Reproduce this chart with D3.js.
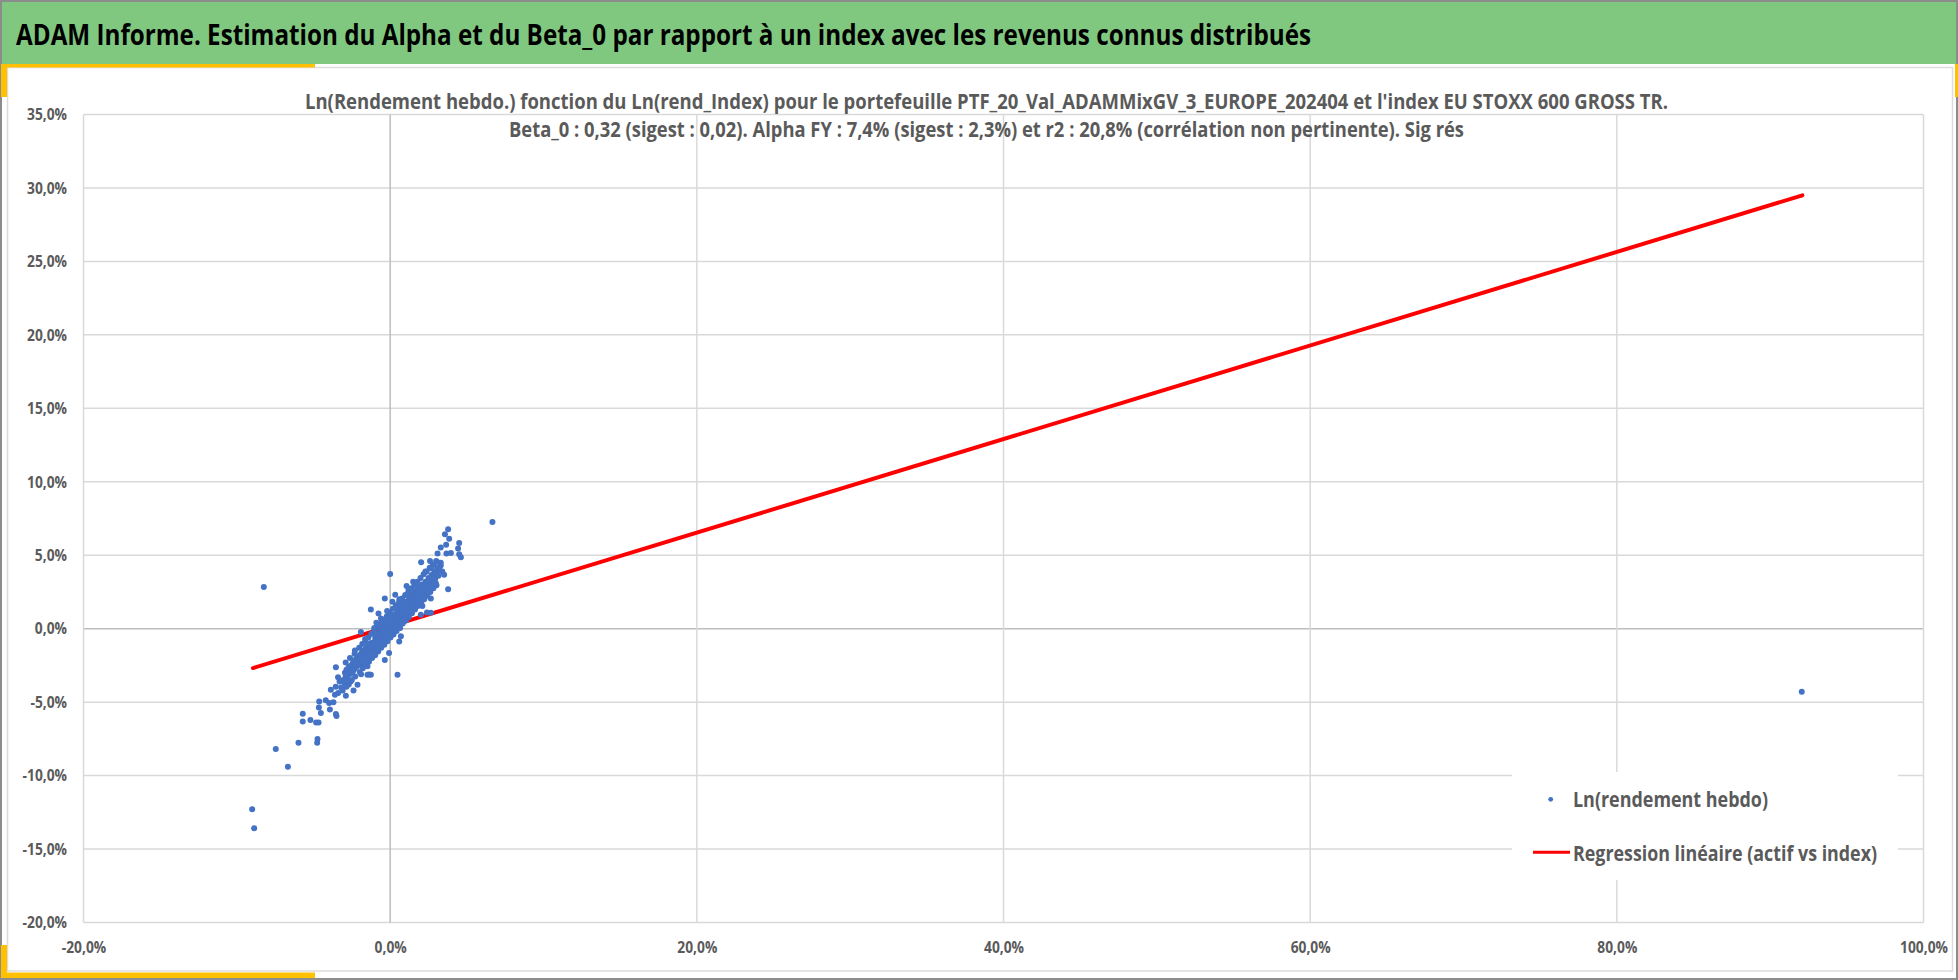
<!DOCTYPE html>
<html>
<head>
<meta charset="utf-8">
<script src="https://cdn.jsdelivr.net/npm/d3@7"></script>
<style>
body { margin: 0; background: #fff; }
svg { display: block; }
text { font-family: "Open Sans", "Noto Sans", "Liberation Sans", sans-serif; }
</style>
</head>
<body>
<svg id="chart" width="1958" height="980"></svg>
<script>
// textes
var titleText = "ADAM Informe. Estimation du Alpha et du Beta_0 par rapport à un index avec les revenus connus distribués";
var subtitleLines = [
	"Ln(Rendement hebdo.) fonction du Ln(rend_Index) pour le portefeuille PTF_20_Val_ADAMMixGV_3_EUROPE_202404 et l'index EU STOXX 600 GROSS TR.",
	"Beta_0 : 0,32 (sigest : 0,02).  Alpha FY : 7,4% (sigest : 2,3%) et r2 : 20,8% (corrélation non pertinente). Sig rés"
];
var legendLabels = ["Ln(rendement hebdo)", "Regression linéaire (actif vs index)"];

// graduations (en %)
var xTickVals = [-20, 0, 20, 40, 60, 80, 100];
var yTickVals = [-20, -15, -10, -5, 0, 5, 10, 15, 20, 25, 30, 35];

// droite de regression (extremites, en %)
var regX = [-8.95, 92.1];
var regY = [-2.68, 29.5];

// nuage : [rend_index %, rend_ptf %]
var cloudCore = [
	[-3.05,-3.5],[-2.95,-3.0],[-2.98,-3.7],[-2.9,-3.25],[-2.85,-2.8],[-2.8,-3.4],[-2.75,-3.05],[-2.7,-2.6],[-2.65,-3.1],[-2.6,-2.85],[-2.55,-2.5],[-2.5,-3.0],
	[-2.47,-2.7],[-2.44,-2.35],[-2.42,-2.9],[-2.38,-2.55],[-2.35,-2.2],[-2.32,-2.75],[-2.28,-2.45],[-2.25,-2.1],[-2.22,-2.6],[-2.18,-2.3],[-2.15,-1.95],[-2.12,-2.5],[-2.08,-2.15],[-2.05,-2.4],[-2.02,-1.85],
	[-1.98,-2.25],[-1.96,-1.9],[-1.94,-2.5],[-1.92,-2.05],[-1.9,-1.7],[-1.88,-2.2],[-1.85,-1.95],
	[-1.82,-1.6],[-1.8,-2.1],[-1.77,-1.8],[-1.74,-2.3],[-1.72,-1.5],[-1.7,-1.95],[-1.67,-1.7],
	[-1.64,-1.4],[-1.62,-1.85],[-1.6,-1.6],[-1.57,-2.05],[-1.54,-1.35],[-1.52,-1.75],[-1.5,-1.5],
	[-1.47,-1.2],[-1.44,-1.65],[-1.42,-1.4],[-1.4,-1.9],[-1.37,-1.15],[-1.34,-1.55],[-1.32,-1.3],
	[-1.28,-1.0],[-1.25,-1.45],[-1.22,-1.2],[-1.18,-1.6],[-1.15,-0.95],[-1.12,-1.3],[-1.08,-1.05],
	[-1.0,-0.85],[-0.99,-1.25],[-0.97,-0.6],[-0.95,-1.0],[-0.93,-1.4],[-0.91,-0.75],[-0.89,-1.1],[-0.87,-0.5],[-0.85,-0.9],[-0.83,-1.2],
	[-0.8,-0.65],[-0.79,-1.0],[-0.77,-0.4],[-0.75,-0.8],[-0.73,-1.1],[-0.71,-0.55],[-0.69,-0.9],[-0.67,-0.3],[-0.65,-0.7],[-0.63,-1.0],
	[-0.6,-0.45],[-0.59,-0.8],[-0.57,-0.2],[-0.55,-0.6],[-0.53,-0.9],[-0.51,-0.35],[-0.49,-0.7],[-0.47,-0.1],[-0.45,-0.5],[-0.43,-0.8],
	[-0.4,-0.2],[-0.39,-0.55],[-0.37,0.05],[-0.35,-0.35],[-0.33,-0.7],[-0.31,-0.1],[-0.29,-0.45],[-0.27,0.2],[-0.25,-0.2],[-0.23,-0.55],
	[-0.2,0.05],[-0.19,-0.3],[-0.17,0.35],[-0.15,-0.05],[-0.13,-0.4],[-0.11,0.15],[-0.09,-0.2],[-0.07,0.45],[-0.05,0.1],[-0.03,-0.3],
	[0.0,0.3],[0.01,-0.1],[0.02,0.6],[0.04,0.15],[0.05,-0.25],[0.07,0.4],[0.08,0.0],[0.1,0.7],[0.12,0.25],[0.13,-0.15],[0.15,0.5],[0.17,0.1],
	[0.2,0.45],[0.21,0.05],[0.22,0.85],[0.24,0.35],[0.25,-0.05],[0.27,0.65],[0.28,0.2],[0.3,0.95],[0.32,0.5],[0.33,0.1],[0.35,0.75],[0.37,0.3],
	[0.4,0.7],[0.41,0.3],[0.42,1.05],[0.44,0.55],[0.45,0.15],[0.47,0.9],[0.48,0.45],[0.5,1.2],[0.52,0.75],[0.53,0.35],[0.55,1.0],[0.57,0.6],
	[0.6,0.95],[0.61,0.55],[0.62,1.3],[0.64,0.8],[0.65,0.4],[0.67,1.15],[0.68,0.7],[0.7,1.45],[0.72,1.0],[0.73,0.6],[0.75,1.25],[0.77,0.85],
	[0.8,1.2],[0.81,0.8],[0.82,1.55],[0.84,1.05],[0.85,0.65],[0.87,1.4],[0.88,0.95],[0.9,1.7],[0.92,1.25],[0.93,0.85],[0.95,1.5],[0.97,1.1],
	[1.0,1.45],[1.02,1.05],[1.04,1.8],[1.06,1.3],[1.08,0.95],[1.1,1.65],[1.13,1.2],[1.15,1.9],[1.18,1.5],
	[1.2,1.7],[1.22,1.3],[1.24,2.05],[1.26,1.55],[1.28,1.15],[1.3,1.9],[1.33,1.45],[1.35,2.15],[1.38,1.75],
	[1.4,1.9],[1.42,1.5],[1.44,2.3],[1.46,1.75],[1.48,1.35],[1.5,2.1],[1.53,1.65],[1.55,2.4],[1.58,1.95],
	[1.6,2.15],[1.62,1.75],[1.64,2.5],[1.66,2.0],[1.68,1.6],[1.7,2.35],[1.73,1.9],[1.75,2.6],[1.78,2.2],
	[1.8,2.4],[1.82,2.0],[1.84,2.75],[1.86,2.25],[1.88,1.85],[1.9,2.55],[1.93,2.1],[1.95,2.85],[1.98,2.45],
	[2.02,2.6],[2.06,2.2],[2.1,3.0],[2.14,2.45],[2.18,2.85],
	[2.22,2.8],[2.26,2.4],[2.3,3.2],[2.34,2.7],[2.38,3.05],
	[2.42,3.1],[2.46,2.65],[2.5,3.45],[2.54,2.95],[2.58,3.3],
	[2.62,3.3],[2.66,2.9],[2.7,3.65],[2.74,3.15],[2.78,3.5],
	[2.82,3.55],[2.86,3.1],[2.9,3.9],[2.94,3.4],[2.98,3.7],
	[3.04,3.85],[3.1,4.1],[3.15,3.6],[3.22,4.0],[3.3,4.3]
];

// bords du nuage (epaississent la bande)
var cloudEdge = [
	[-2.9,-2.3],[-2.85,-3.95],[-2.62,-2.0],[-2.58,-3.6],[-2.32,-1.7],[-2.28,-3.25],[-2.02,-1.3],[-1.98,-2.95],
	[-1.82,-1.05],[-1.78,-2.7],[-1.62,-0.85],[-1.58,-2.45],[-1.42,-0.6],[-1.38,-2.25],[-1.22,-0.35],[-1.18,-2.0],
	[-1.02,-0.1],[-0.98,-1.8],[-1.05,-0.3],[-0.82,0.1],[-0.78,-1.55],[-0.85,-1.4],[-0.62,0.35],[-0.58,-1.3],
	[-0.64,0.2],[-0.42,0.6],[-0.38,-1.1],[-0.45,0.45],[-0.22,0.85],[-0.18,-0.85],[-0.25,0.7],[-0.02,1.1],
	[0.02,-0.6],[0.05,0.95],[0.18,1.35],[0.22,-0.4],[0.15,-0.3],[0.38,1.6],[0.42,-0.15],[0.36,1.45],
	[0.58,1.8],[0.62,0.1],[0.65,0.05],[0.78,2.05],[0.82,0.35],[0.76,1.9],[0.98,2.3],[1.02,0.55],
	[1.05,0.6],[1.18,2.5],[1.22,0.8],[1.25,2.4],[1.38,2.75],[1.42,1.05],[1.36,1.1],[1.58,3.0],
	[1.62,1.3],[1.66,2.9],[1.78,3.2],[1.82,1.55],[1.98,3.45],[2.02,1.8],[2.18,3.7],[2.22,2.0],
	[2.38,3.9],[2.42,2.25],[2.58,4.15],[2.62,2.5],[2.78,4.35],[2.82,2.75],[3.0,4.6],[3.02,2.95]
];

var cloudSpread = [
	[0,3.72],[-0.35,2.06],[0.33,2.31],[0.15,1.83],[1.07,2.9],[-1.26,1.31],[-0.76,1.04],[-1.04,0.05],
	[-1.91,-0.22],[-1.63,-0.7],[-2.3,-1.49],[-3.54,-2.62],[-0.35,-2.13],[0.59,-0.88],[0.7,-0.52],[-0.07,-1.65],
	[-1.48,-2.56],[-1.37,-3.12],[0.48,-3.14],[2.65,2.06],[2.1,1.54],[2.65,1.09],[2.4,1.1],[2.0,0.95],
	[3.78,2.68],[3.52,3.67],[2.98,3.1],[-0.2,1.2],[0.6,2.0],[1.5,3.2],[1.2,2.7],[-0.6,0.7],[-0.9,0.4]
];

var cloudUpper = [
	[3.78,6.76],[3.57,6.43],[3.85,6.13],[3.65,5.72],[4.5,5.84],[4.43,5.45],[3.3,5.52],[3.09,5.11],
	[3.67,5.11],[3.96,5.16],[4.5,5.07],[4.61,4.86],[2.02,4.52],[2.6,4.6],[2.85,4.35],[3.3,4.48],
	[3.2,4.2],[2.7,4.1],[3.4,3.9],[2.3,3.9],[3.05,4.55],[6.67,7.26]
];

var cloudLower = [
	[-4.63,-4.95],[-4.65,-5.36],[-4.52,-5.74],[-4.2,-4.88],[-3.98,-5.06],[-3.7,-5.0],[-3.93,-5.5],[-3.54,-5.81],
	[-3.5,-5.95],[-3.87,-4.16],[-3.55,-3.95],[-3.39,-4.38],[-2.89,-4.56],[-2.39,-4.2],[-2.13,-3.82],[-1.48,-3.14],
	[-1.26,-3.14],[-5.7,-5.79],[-5.7,-6.31],[-5.2,-6.22],[-4.83,-6.38],[-4.67,-6.38],[-5.98,-7.76],[-4.74,-7.51],
	[-4.76,-7.76],[-7.46,-8.19],[-6.67,-9.39],[-9.0,-12.29],[-8.87,-13.58],[-3.2,-4.0],[-3.3,-3.6],[-3.1,-4.2],
	[-3.6,-4.5],[-3.4,-3.3],[-2.7,-3.8],[-2.5,-3.5],[-1.9,-3.1]
];

var outliers = [[-8.24,2.83],[92.06,-4.29]];

var svg = d3.select("#chart");
var W = 1958, H = 980;
var margin = {left: 83.5, right: 34.5, top: 114.5, bottom: 57.5};

var locale = d3.formatLocale({decimal: ",", thousands: " ", grouping: [3], currency: ["", " €"], minus: "-"});
var fmt = locale.format(".1f");

// compresse le texte (police etroite type Calibri)
function squeeze(sel, target) {
	sel.each(function() {
		var w = this.getComputedTextLength();
		var t = typeof target === "function" ? target(w) : target;
		d3.select(this).attr("textLength", t).attr("lengthAdjust", "spacingAndGlyphs");
	});
}

// ---- cadre
svg.append("rect").attr("x", 1).attr("y", 1).attr("width", W - 2).attr("height", H - 2)
	.attr("fill", "#fff").attr("stroke", "#8c8c8c").attr("stroke-width", 2);

svg.append("rect").attr("x", 2).attr("y", 2).attr("width", W - 4).attr("height", 62)
	.attr("fill", "#80c880");

svg.append("rect").attr("x", 7.5).attr("y", 67.5).attr("width", 1945).attr("height", 903.5)
	.attr("fill", "#fff").attr("stroke", "#dcdcdc").attr("stroke-width", 1.5);

// coins jaunes
var yellow = "#ffc000";
svg.append("rect").attr("x", 1).attr("y", 64).attr("width", 314).attr("height", 3.5).attr("fill", yellow);
svg.append("rect").attr("x", 1).attr("y", 64).attr("width", 6).attr("height", 33).attr("fill", yellow);
svg.append("rect").attr("x", 1).attr("y", 972.5).attr("width", 314).attr("height", 5.5).attr("fill", yellow);
svg.append("rect").attr("x", 1).attr("y", 945).attr("width", 6).attr("height", 33).attr("fill", yellow);
svg.append("rect").attr("x", 1955).attr("y", 64).attr("width", 3).attr("height", 33).attr("fill", yellow);

// titre
svg.append("text")
	.attr("x", 16).attr("y", 45)
	.attr("font-size", 28).attr("font-weight", "bold").attr("fill", "#000")
	.text(titleText)
	.call(squeeze, 1295);

// ---- zone du graphe
var x = d3.scaleLinear().domain([-20, 100]).range([margin.left, W - margin.right]);
var y = d3.scaleLinear().domain([-20, 35]).range([H - margin.bottom, margin.top]);

var grid = svg.append("g").attr("class", "grid");
grid.selectAll("line.h")
	.data(yTickVals)
	.enter()
	.append("line")
	.attr("class", "h")
	.attr("x1", x(-20)).attr("x2", x(100))
	.attr("y1", function(d) { return y(d); })
	.attr("y2", function(d) { return y(d); })
	.attr("stroke", function(d) { return d === 0 ? "#bdbdbd" : "#d9d9d9"; })
	.attr("stroke-width", 1.5);

grid.selectAll("line.v")
	.data(xTickVals)
	.enter()
	.append("line")
	.attr("class", "v")
	.attr("y1", y(-20)).attr("y2", y(35))
	.attr("x1", function(d) { return x(d); })
	.attr("x2", function(d) { return x(d); })
	.attr("stroke", function(d) { return d === 0 ? "#bdbdbd" : "#d9d9d9"; })
	.attr("stroke-width", 1.5);

// sous-titre
svg.selectAll("text.sub")
	.data(subtitleLines)
	.enter()
	.append("text")
	.attr("class", "sub")
	.attr("x", 986.5)
	.attr("y", function(d, i) { return 108.5 + i * 28.3; })
	.attr("text-anchor", "middle")
	.attr("font-size", 20.5).attr("font-weight", "bold").attr("fill", "#5a5a5a")
	.text(function(d) { return d; })
	.each(function(d, i) {
		d3.select(this).call(squeeze, i === 0 ? 1363 : 955);
	});

// axes
var yAxis = d3.axisLeft(y).tickValues(yTickVals).tickSize(0).tickPadding(16.5)
	.tickFormat(function(d) { return fmt(d) + "%"; });
var xAxis = d3.axisBottom(x).tickValues(xTickVals).tickSize(0).tickPadding(18.5)
	.tickFormat(function(d) { return fmt(d) + "%"; });

var gy = svg.append("g").attr("transform", "translate(" + margin.left + ",0)").call(yAxis);
var gx = svg.append("g").attr("transform", "translate(0," + y(-20) + ")").call(xAxis);
[gx, gy].forEach(function(g) {
	g.select(".domain").remove();
	g.selectAll("text")
		.attr("font-size", 16.5).attr("font-weight", "bold").attr("fill", "#5a5a5a")
		.style("font-family", "'Open Sans', 'Noto Sans', sans-serif");
});

// largeur cible : "35,0%" = 40 px
var probe = gy.selectAll("text").filter(function(d) { return d === 35; }).node();
var k = 40 / probe.getComputedTextLength();
gx.selectAll("text").call(squeeze, function(w) { return w * k; });
gy.selectAll("text").call(squeeze, function(w) { return w * k; });

// droite de regression
var line = d3.line()
	.x(function(d) { return x(d[0]); })
	.y(function(d) { return y(d[1]); });

svg.append("path")
	.datum(regX.map(function(d, i) { return [d, regY[i]]; }))
	.attr("d", line)
	.attr("fill", "none")
	.attr("stroke", "#ff0000")
	.attr("stroke-width", 4)
	.attr("stroke-linecap", "round");

// points
var points = cloudCore.concat(cloudEdge, cloudSpread, cloudUpper, cloudLower, outliers);
svg.append("g")
	.selectAll("circle")
	.data(points)
	.enter()
	.append("circle")
	.attr("cx", function(d) { return x(d[0]); })
	.attr("cy", function(d) { return y(d[1]); })
	.attr("r", 3)
	.attr("fill", "#4472c4");

// legende
var lg = svg.append("g");
lg.append("rect").attr("x", 1512).attr("y", 772).attr("width", 386).attr("height", 108).attr("fill", "#fff");
lg.append("circle").attr("cx", 1550.7).attr("cy", 799.3).attr("r", 2.4).attr("fill", "#4472c4");
lg.append("line").attr("x1", 1533).attr("x2", 1570).attr("y1", 852.3).attr("y2", 852.3)
	.attr("stroke", "#ff0000").attr("stroke-width", 3);
lg.selectAll("text")
	.data(legendLabels)
	.enter()
	.append("text")
	.attr("x", 1573)
	.attr("y", function(d, i) { return 806.7 + i * 54; })
	.attr("font-size", 20.5).attr("font-weight", "bold").attr("fill", "#5a5a5a")
	.text(function(d) { return d; })
	.each(function(d, i) {
		d3.select(this).call(squeeze, i === 0 ? 195 : 304);
	});
</script>
</body>
</html>
